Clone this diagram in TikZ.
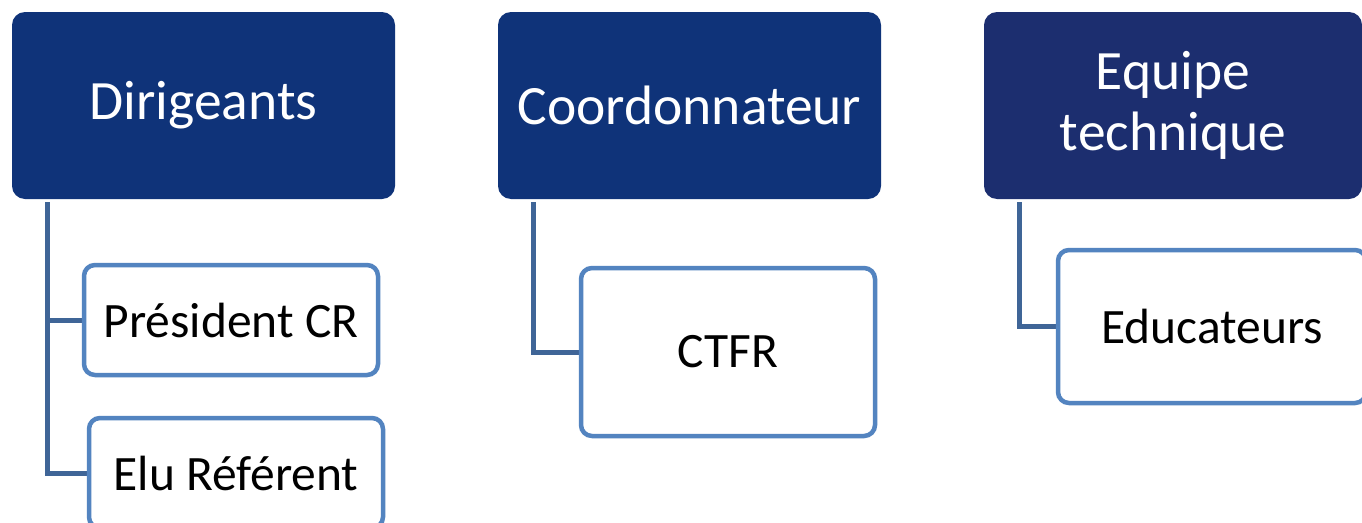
\documentclass[tikz,border=0pt]{standalone}
\usepackage{fontspec}
\setmainfont{Carlito}
\usetikzlibrary{calc,backgrounds}
\definecolor{headA}{HTML}{0F3379}
\definecolor{headB}{HTML}{1C2E6F}
\definecolor{childline}{HTML}{5384C0}
\definecolor{connline}{HTML}{3F6597}
\tikzset{
  headbox/.style={rounded corners=13pt, fill=headA, draw=none, text=white,
    minimum width=383pt, minimum height=187pt, inner sep=0pt, align=center,
    font=\fontsize{55.5}{61}\selectfont},
  childbox/.style={rounded corners=11pt, draw=childline, line width=4.5pt, fill=white,
    text=black, minimum width=294pt, inner sep=0pt, align=center,
    font=\fontsize{49.5}{56}\selectfont},
  conn/.style={draw=connline, line width=5pt}
}
\begin{document}
\begin{tikzpicture}[x=1pt,y=-1pt]
\clip (0,0) rectangle (1362,522);
\node[headbox] (D) at (203.5,105.5) {Dirigeants};
\node[headbox] (C) at (689.5,105.5) {Coordonnateur};
\node[headbox, fill=headB, minimum width=378pt] (T) at (1173,105.5) {Equipe\\technique};
\node[childbox, minimum height=110pt] (P) at (231,320) {Président CR};
\node[childbox, minimum height=110pt] (E) at (236,473) {Elu Référent};
\node[childbox, minimum height=168pt] (F) at (728,352) {CTFR};
\node[childbox, minimum width=308pt, minimum height=153pt] (U) at (1212,326.5) {Educateurs};
\coordinate (d0) at ($(D.south west)+(35.5,3)$);
\coordinate (c0) at ($(C.south west)+(35.5,3)$);
\coordinate (t0) at ($(T.south west)+(36,3)$);
\begin{scope}[on background layer]
\fill[white] (0,0) rectangle (1362,522);
\draw[conn] (d0) |- (P.center);
\draw[conn] (d0) |- (E.center);
\draw[conn] (c0) |- (F.center);
\draw[conn] (t0) |- (U.center);
\end{scope}
\end{tikzpicture}
\end{document}
